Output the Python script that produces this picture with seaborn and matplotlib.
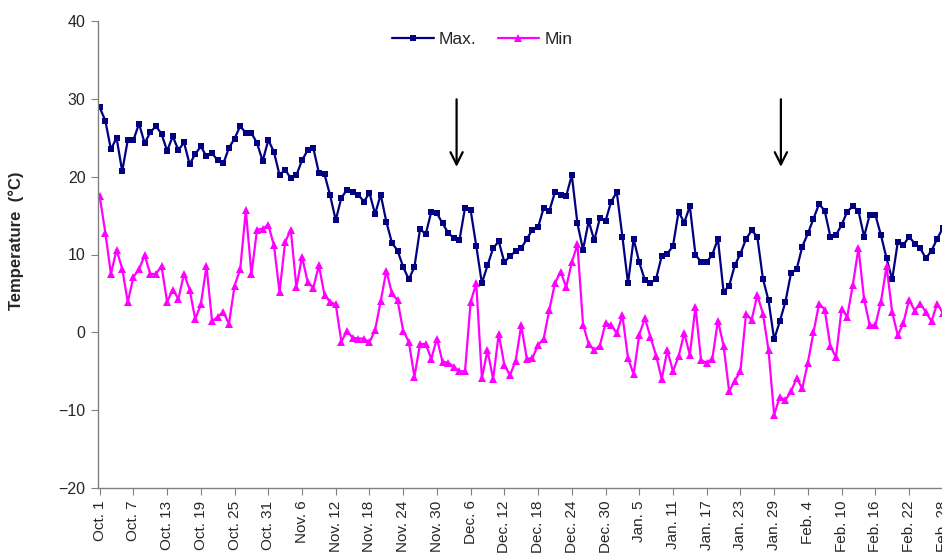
import numpy as np
import pandas as pd
import matplotlib
matplotlib.use("Agg")
import matplotlib.pyplot as plt
import seaborn as sns

# Daily temperatures from Oct. 1 (day 0) to Feb. 28 (day 150)
max_temp = [28.9, 27.2, 23.5, 25.0, 20.7, 24.7, 24.7, 26.8, 24.3, 25.7,
            26.5, 25.5, 23.3, 25.2, 23.4, 24.4, 21.6, 22.9, 23.9, 22.6,
            23.0, 22.1, 21.7, 23.7, 24.9, 26.5, 25.6, 25.6, 24.3, 22.0,
            24.7, 23.2, 20.2, 20.9, 19.8, 20.2, 22.1, 23.4, 23.7, 20.5,
            20.3, 17.6, 14.4, 17.3, 18.3, 18.0, 17.7, 16.8, 17.9, 15.2,
            17.7, 14.2, 11.5, 10.5, 8.4, 6.8, 8.4, 13.3, 12.6, 15.5,
            15.3, 14.0, 12.8, 12.1, 11.8, 16.0, 15.7, 11.1, 6.3, 8.6,
            10.8, 11.7, 9.0, 9.8, 10.4, 10.8, 12.0, 13.2, 13.5, 16.0,
            15.6, 18.0, 17.7, 17.5, 20.2, 14.0, 10.6, 14.3, 11.8, 14.7,
            14.3, 16.8, 18.0, 12.3, 6.3, 12.0, 9.0, 6.7, 6.3, 6.9,
            9.8, 10.1, 11.1, 15.5, 14.1, 16.2, 10.0, 9.0, 9.0, 10.0,
            12.0, 5.2, 6.0, 8.6, 10.1, 12.0, 13.1, 12.3, 6.9, 4.1,
            -0.9, 1.4, 3.9, 7.6, 8.1, 11.0, 12.7, 14.6, 16.5, 15.6,
            12.3, 12.5, 13.8, 15.5, 16.2, 15.6, 12.3, 15.1, 15.1, 12.5,
            9.5, 6.8, 11.6, 11.2, 12.3, 11.4, 10.8, 9.5, 10.5, 12.0,
            13.4]

min_temp = [17.5, 12.8, 7.5, 10.6, 8.2, 3.9, 7.1, 8.1, 9.9, 7.5,
            7.5, 8.5, 3.9, 5.5, 4.3, 7.5, 5.5, 1.7, 3.6, 8.5,
            1.4, 2.0, 2.6, 1.1, 6.0, 8.1, 15.7, 7.5, 13.2, 13.3,
            13.8, 11.2, 5.2, 11.6, 13.2, 5.8, 9.7, 6.5, 5.7, 8.6,
            4.8, 3.9, 3.6, -1.2, 0.2, -0.7, -0.8, -0.8, -1.3, 0.3,
            4.0, 7.9, 5.0, 4.1, 0.2, -1.2, -5.7, -1.5, -1.5, -3.4,
            -0.8, -3.8, -3.9, -4.4, -5.0, -5.0, 3.9, 6.3, -5.9, -2.3,
            -6.0, -0.2, -4.2, -5.5, -3.7, 0.9, -3.4, -3.3, -1.6, -0.8,
            2.9, 6.3, 7.8, 5.8, 9.0, 11.3, 1.0, -1.5, -2.3, -1.7,
            1.2, 0.9, -0.1, 2.2, -3.3, -5.4, -0.3, 1.8, -0.6, -3.0,
            -6.0, -2.3, -5.0, -3.1, -0.1, -2.9, 3.3, -3.6, -3.9, -3.4,
            1.5, -1.7, -7.6, -6.2, -5.0, 2.4, 1.6, 4.8, 2.4, -2.3,
            -10.6, -8.3, -8.7, -7.6, -5.9, -7.2, -3.9, 0.0, 3.7, 2.9,
            -1.8, -3.2, 3.0, 2.0, 6.1, 10.8, 4.3, 0.9, 0.9, 3.9,
            8.5, 2.6, -0.4, 1.2, 4.2, 2.8, 3.7, 2.6, 1.4, 3.7,
            2.5]

tick_labels = ["Oct. 1", "Oct. 7", "Oct. 13", "Oct. 19", "Oct. 25", "Oct. 31",
               "Nov. 6", "Nov. 12", "Nov. 18", "Nov. 24", "Nov. 30",
               "Dec. 6", "Dec. 12", "Dec. 18", "Dec. 24", "Dec. 30",
               "Jan. 5", "Jan. 11", "Jan. 17", "Jan. 23", "Jan. 29",
               "Feb. 4", "Feb. 10", "Feb. 16", "Feb. 22", "Feb. 28"]
tick_step = 6
arrow_days = [63.5, 121.2]

days = np.arange(len(max_temp))
df = pd.DataFrame({
    "day": np.concatenate([days, days]),
    "temp": max_temp + min_temp,
    "series": ["Max."] * len(max_temp) + ["Min"] * len(min_temp),
})

sns.set_style("white")
plt.rcParams["font.family"] = ["Liberation Sans", "DejaVu Sans"]

fig = plt.figure(figsize=(9.42, 5.54), dpi=100)
ax = fig.add_axes([98 / 942, 66 / 554, 856 / 942, 467 / 554])

palette = {"Max.": "#000080", "Min": "#FF00FF"}
markers = {"Max.": "s", "Min": "^"}
for name in ["Max.", "Min"]:
    sub = df[df["series"] == name]
    sns.lineplot(data=sub, x="day", y="temp", ax=ax, color=palette[name],
                 marker=markers[name], markersize=5 if name == "Max." else 6,
                 markeredgewidth=0, linewidth=1.6, label=name)

ax.set_xlim(-0.3, 152)
ax.set_ylim(-20, 40)
ax.set_yticks(np.arange(-20, 41, 10))
ax.set_xticks(np.arange(0, len(tick_labels) * tick_step, tick_step))
ax.set_xticklabels(tick_labels, rotation=90, ha="center", va="top", fontsize=11)
ax.tick_params(axis="y", labelsize=11.5, length=5, color="#808080", direction="out", pad=4, left=True)
ax.tick_params(axis="x", length=5, color="#808080", direction="out", pad=4, bottom=True)
ax.set_xlabel("")
ax.set_ylabel("Temperature  (°C)", fontsize=12, fontweight="bold")
ax.yaxis.set_label_coords(-0.086, 0.529)

for s in ["top", "right"]:
    ax.spines[s].set_visible(False)
for s in ["left", "bottom"]:
    ax.spines[s].set_color("#808080")
    ax.spines[s].set_linewidth(1.0)

for d in arrow_days:
    ax.annotate("", xy=(d, 20.9), xytext=(d, 30.3),
                arrowprops=dict(arrowstyle="->", color="black", lw=1.6,
                                mutation_scale=22))

leg = ax.legend(loc="center", bbox_to_anchor=(0.449, 0.960), ncol=2,
                frameon=False, fontsize=12.5, handlelength=2.4, columnspacing=1.2,
                handletextpad=0.3)

fig.savefig("out.png", dpi=100)
